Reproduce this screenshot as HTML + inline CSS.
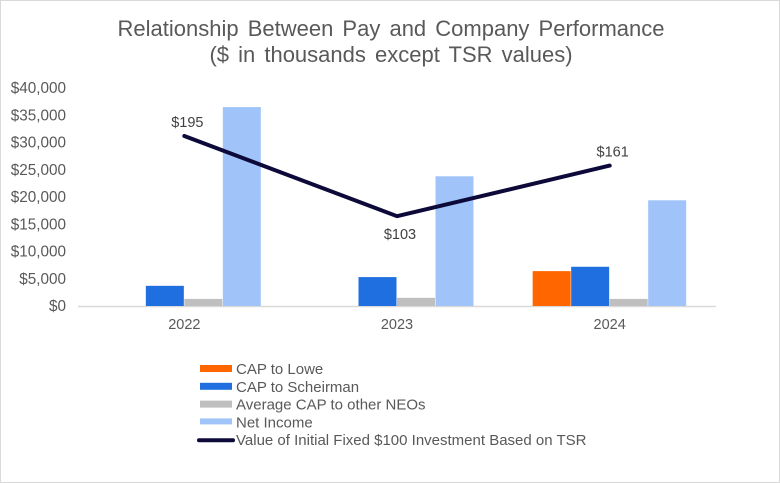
<!DOCTYPE html>
<html><head><meta charset="utf-8"><style>
html,body{margin:0;padding:0;background:#fff}
#wrap{position:relative;width:780px;height:483px;box-sizing:border-box;border:1px solid #d9d9d9;font-family:"Liberation Sans",Arial,sans-serif;overflow:hidden}
svg{position:absolute;left:0;top:0}
</style></head><body>
<div id="wrap">
<svg id="chart" width="780" height="483">
<text x="390" y="35" text-anchor="middle" font-size="22" fill="#595959" word-spacing="3">Relationship Between Pay and Company Performance</text>
<text x="390" y="61" text-anchor="middle" font-size="22" fill="#595959" word-spacing="3">($ in thousands except TSR values)</text>
</svg>
</div>
<script>
const categories = ["2022","2023","2024"];
const capLowe = [0, 0, 6400];
const capScheirman = [3700, 5300, 7200];
const avgOther = [1300, 1500, 1300];
const netIncome = [36500, 23800, 19400];
const tsr = [195, 103, 161];
const yTicks = [0,5000,10000,15000,20000,25000,30000,35000,40000];
const seriesNames = ["CAP to Lowe","CAP to Scheirman","Average CAP to other NEOs","Net Income"];
const seriesColors = ["#ff6600","#1f6fe0","#bfbfbf","#a0c4fa"];
const lineName = "Value of Initial Fixed $100 Investment Based on TSR";

const NS="http://www.w3.org/2000/svg";
const svg=document.getElementById('chart');
const plotL=77, plotR=715, y0=305, yTop=87;
const yMax=40000, y2Max=250;
function y(v){return y0-(v/yMax)*(y0-yTop);}
function y2(v){return y0-(v/y2Max)*(y0-yTop);}
const catW=(plotR-plotL)/categories.length;
function xc(i){return plotL+catW*(i+0.5);}
const barW=38.5;
function mk(tag,attrs){const e=document.createElementNS(NS,tag);for(const k in attrs)e.setAttribute(k,attrs[k]);svg.appendChild(e);return e;}
function fmt(v){return '$'+v.toLocaleString('en-US');}

yTicks.forEach(t=>{
  const e=mk('text',{x:65,y:y(t)+5,'text-anchor':'end','font-size':15.3,fill:'#595959'});
  e.textContent=fmt(t);
  
  
});
const ax=mk('line',{x1:plotL,x2:plotR,y1:y0+0.5,y2:y0+0.5,stroke:'#d9d9d9','stroke-width':1.5});



const series=[capLowe,capScheirman,avgOther,netIncome];
categories.forEach((c,i)=>{
  const gx=xc(i)-barW*2;
  series.forEach((s,j)=>{
    const v=s[i]; if(!v) return;
    const r=mk('rect',{x:gx+j*barW,y:y(v),width:barW-0.5,height:y0-y(v),fill:seriesColors[j]});
    
    
  });
  const t=mk('text',{x:xc(i),y:y0+23,'text-anchor':'middle','font-size':14.5,fill:'#595959'});
  t.textContent=c;
  
  
});

const pts=tsr.map((v,i)=>xc(i)+','+y2(v)).join(' ');
const pl=mk('polyline',{points:pts,fill:'none',stroke:'#0d0a3a','stroke-width':4,'stroke-linejoin':'round','stroke-linecap':'round'});


tsr.forEach((v,i)=>{
  const below = i>0 && i<tsr.length-1 && v<tsr[i-1] && v<tsr[i+1];
  const t=mk('text',{x:xc(i)+3,y:below?y2(v)+23:y2(v)-9,'text-anchor':'middle','font-size':14.5,fill:'#404040'});
  t.textContent='$'+v;
  
  
});

const lx=199, ly=368, step=17.8;
seriesNames.forEach((n,j)=>{
  const r=mk('rect',{x:lx,y:ly+j*step-4,width:32,height:j==3?6:7,fill:seriesColors[j]});
  
  
  const t=mk('text',{x:235,y:ly+j*step+5,'font-size':15,fill:'#595959'});
  t.textContent=n;
  
  
});
const ll=mk('line',{x1:lx-1,x2:lx+33,y1:ly+4*step,y2:ly+4*step,stroke:'#0d0a3a','stroke-width':4,'stroke-linecap':'round'});


const lt=mk('text',{x:235,y:ly+4*step+5,'font-size':15,fill:'#595959'});
lt.textContent=lineName;


</script>
</body></html>
